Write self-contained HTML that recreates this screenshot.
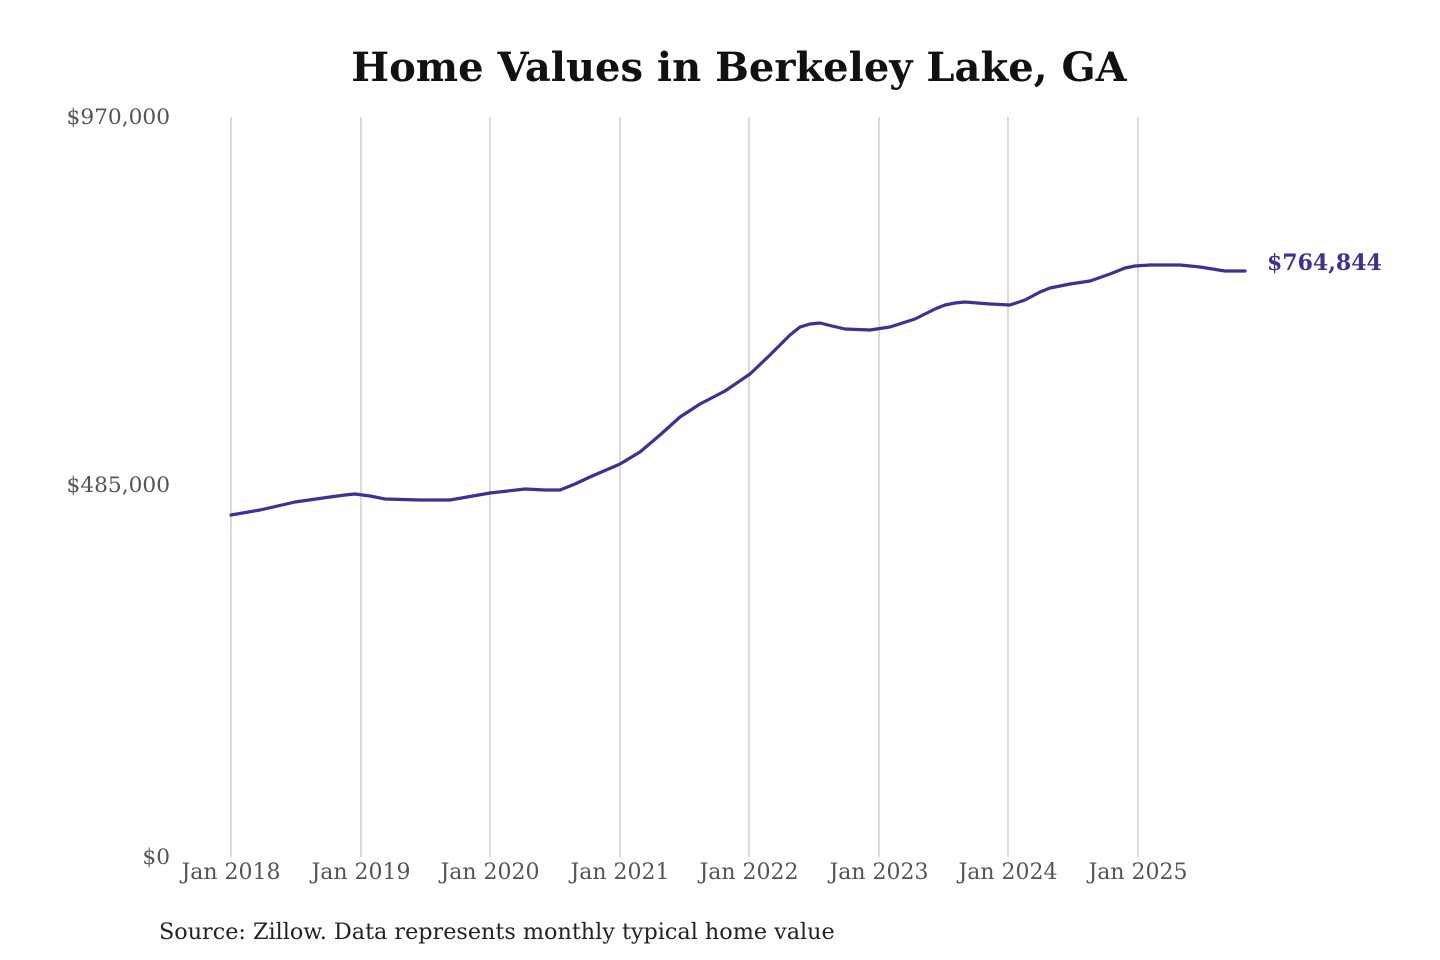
<!DOCTYPE html>
<html><head><meta charset="utf-8"><style>
html,body{margin:0;padding:0;background:#fff;}
svg{display:block;}
</style></head><body>
<svg width="1440" height="960" viewBox="0 0 1440 960" xmlns="http://www.w3.org/2000/svg">
<rect width="1440" height="960" fill="#fff"/>
<text x="739" y="81" text-anchor="middle" font-family="DejaVu Serif, Liberation Serif, serif" font-weight="bold" font-size="40" fill="#111">Home Values in Berkeley Lake, GA</text>
<g stroke="#c8c8c8" stroke-width="1.3">
<line x1="231" y1="117" x2="231" y2="857"/>
<line x1="361" y1="117" x2="361" y2="857"/>
<line x1="490" y1="117" x2="490" y2="857"/>
<line x1="620" y1="117" x2="620" y2="857"/>
<line x1="749" y1="117" x2="749" y2="857"/>
<line x1="879" y1="117" x2="879" y2="857"/>
<line x1="1008" y1="117" x2="1008" y2="857"/>
<line x1="1138" y1="117" x2="1138" y2="857"/>
</g>
<g font-family="DejaVu Serif, Liberation Serif, serif" font-size="21.7" fill="#555">
<text x="170" y="124" text-anchor="end">$970,000</text>
<text x="170" y="492" text-anchor="end">$485,000</text>
<text x="170" y="864" text-anchor="end">$0</text>
<g text-anchor="middle" font-size="22">
<text x="231" y="879">Jan 2018</text>
<text x="361" y="879">Jan 2019</text>
<text x="490" y="879">Jan 2020</text>
<text x="620" y="879">Jan 2021</text>
<text x="749" y="879">Jan 2022</text>
<text x="879" y="879">Jan 2023</text>
<text x="1008" y="879">Jan 2024</text>
<text x="1138" y="879">Jan 2025</text>
</g>
</g>
<polyline fill="none" stroke="#3a3391" stroke-width="3.2" stroke-linejoin="round" stroke-linecap="round"
points="231,515 260,510 295,502 330,497 345,495 355,494 370,496 385,499 420,500 450,500 490,493 525,489 545,490 560,490 575,484 590,477 620,464 640,452 660,435 680,417 700,404 725,391 750,374 770,355 790,335 800,327 810,324 820,323 832,326 845,329 870,330 890,327 915,319 935,309 945,305 955,303 965,302 990,304 1010,305 1025,300 1040,292 1050,288 1070,284 1090,281 1110,274 1125,268 1135,266 1150,265 1180,265 1200,267 1225,271 1245,271"/>
<text x="1267" y="270" font-family="DejaVu Serif, Liberation Serif, serif" font-weight="bold" font-size="22" fill="#3a3391">$764,844</text>
<text x="159" y="939" font-family="DejaVu Serif, Liberation Serif, serif" font-size="22.3" fill="#222">Source: Zillow. Data represents monthly typical home value</text>
</svg>
</body></html>
